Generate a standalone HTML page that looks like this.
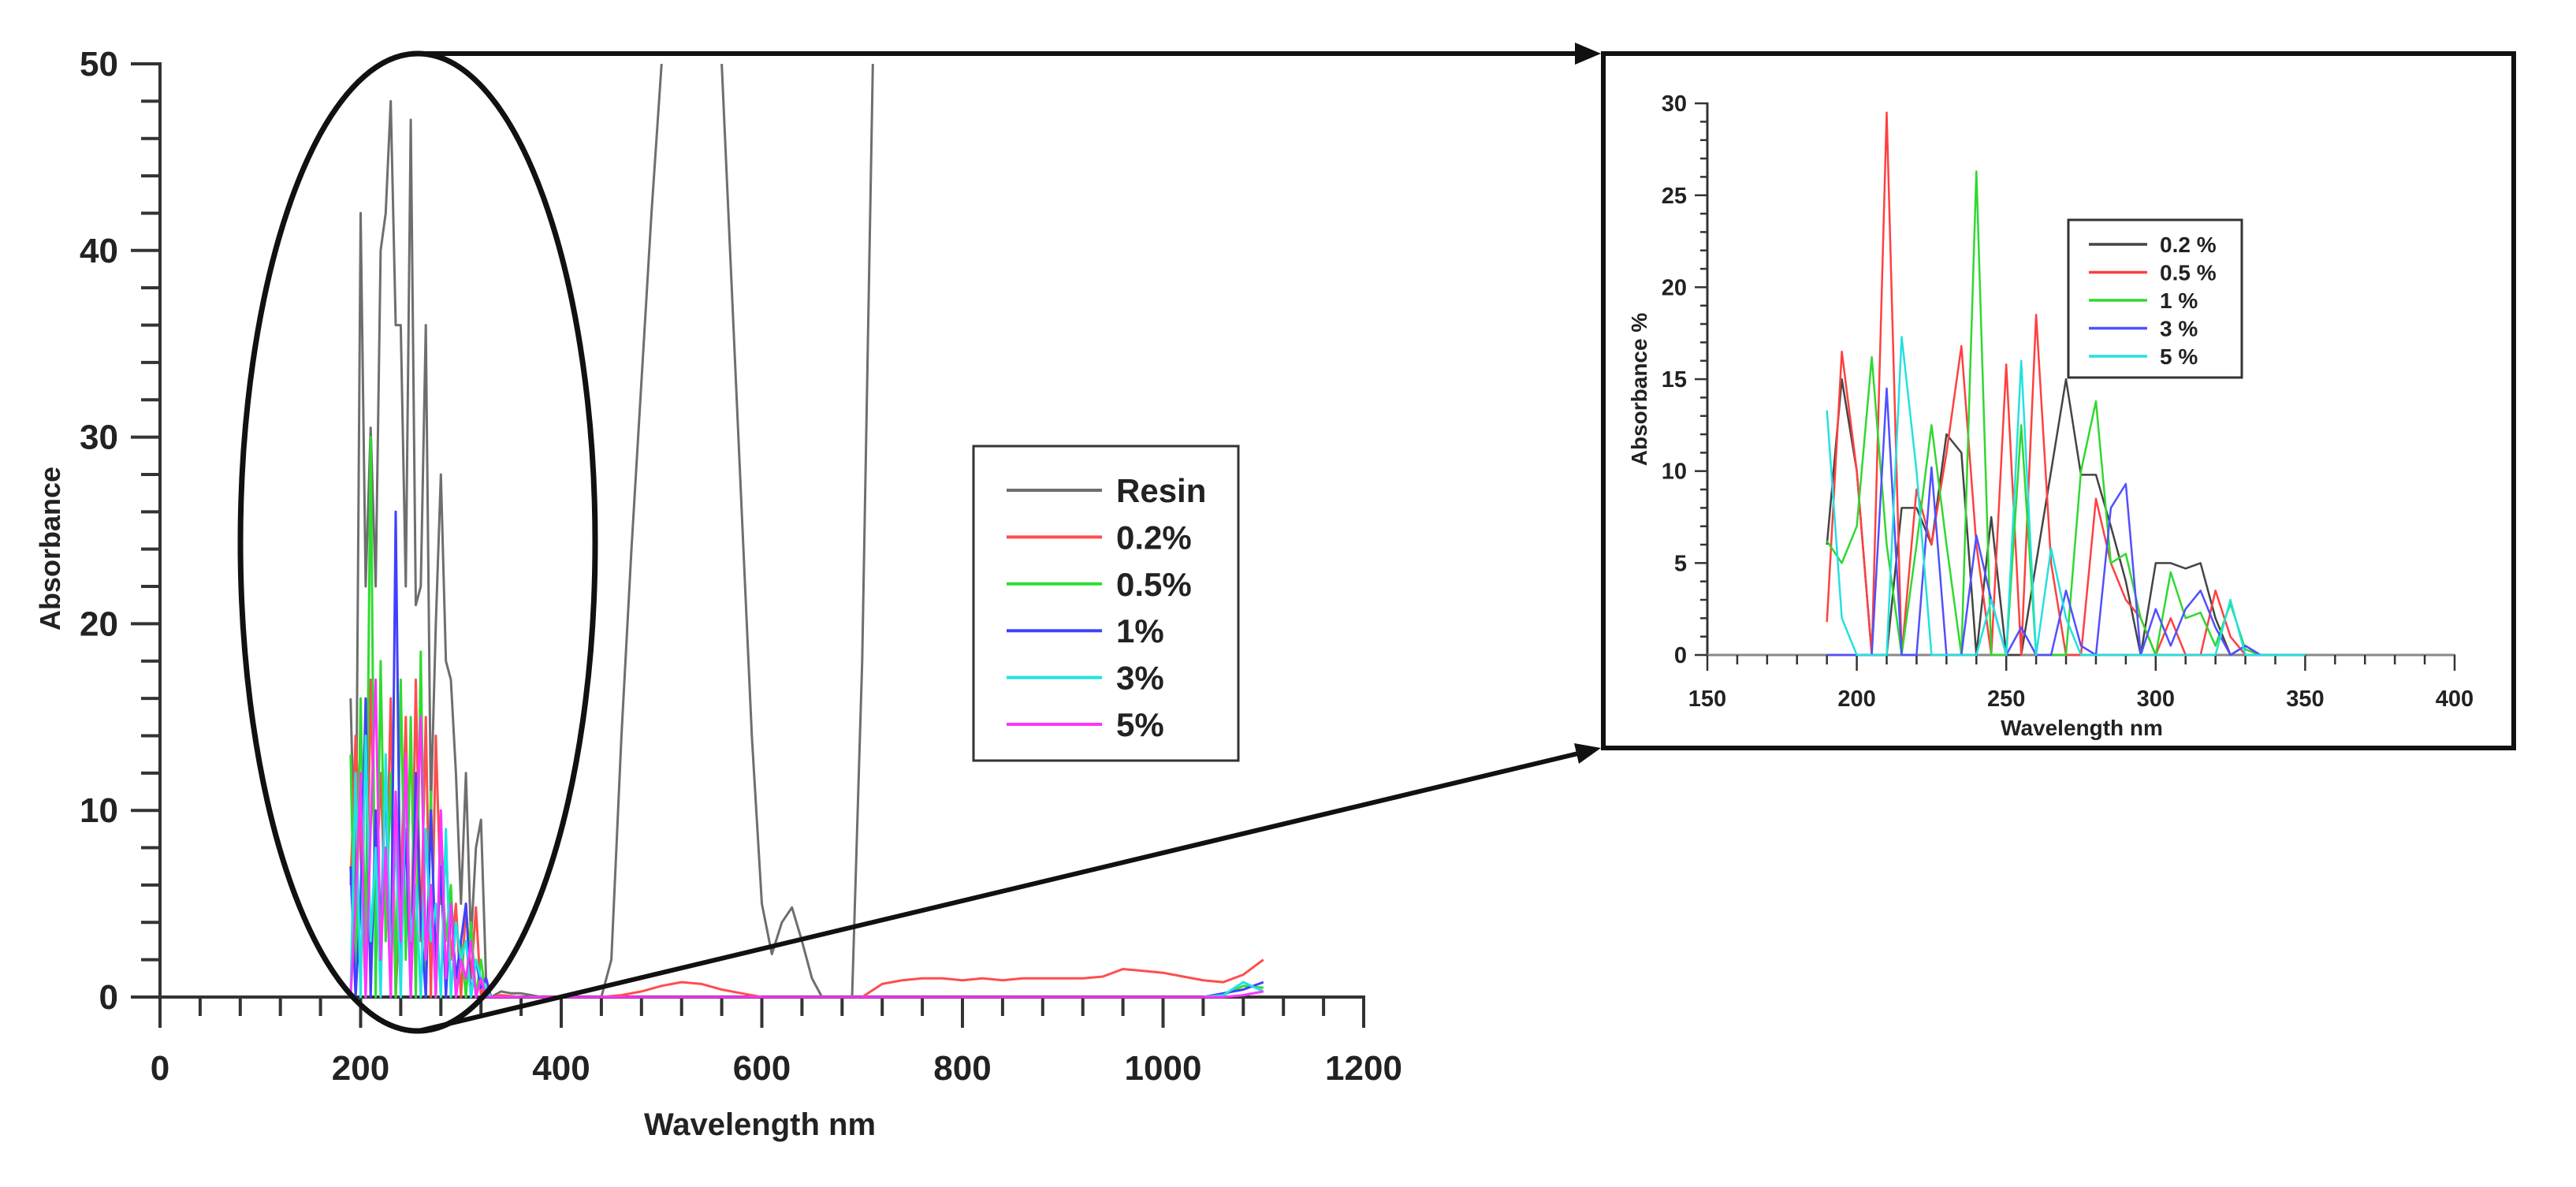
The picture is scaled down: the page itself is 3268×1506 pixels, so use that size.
<!DOCTYPE html>
<html><head><meta charset="utf-8">
<style>
html,body{margin:0;padding:0;background:#fff;}
svg{display:block;}
text{font-family:"Liberation Sans",Arial,sans-serif;fill:#222;}
</style></head>
<body>
<svg id="fig" width="3268" height="1506" viewBox="0 0 3268 1506" xmlns="http://www.w3.org/2000/svg">
<defs>
<clipPath id="mainClip"><rect x="203" y="81" width="1527" height="1200"/></clipPath>
<clipPath id="insetClip"><rect x="2166" y="131" width="948" height="710"/></clipPath>
</defs>
<g id="main"></g>
<g id="inset"></g>
<g id="annot"></g>
</svg>
<script>
// ---------- MAIN CHART DATA ----------
const spikeWl = [190,195,200,205,210,215,220,225,230,235,240,245,250,255,260,265,270,275,280,285,290,295,300,305,310,315,320,325,330];
const tailWl = [340,360,380,400,420,440,460,480,500,520,540,560,580,600,620,640,660,680,700,720,740,760,780,800,820,840,860,880,900,920,940,960,980,1000,1020,1040,1060,1080,1100];
const resinTailWl = [340,350,360,370,380,390,400,410,420,430,440,450,460,470,480,490,500,510,520,530,540,550,560,570,580,590,600,610,620,630,640,650,660,670,680,690,700,710,720];
const resinSpike = [16,5,42,22,30.5,22,40,42,48,36,36,22,47,21,22,36,10,20,28,18,17,12,5,12,3,8,9.5,1,0];
const resinTail = [0.3,0.2,0.2,0.1,0,0,0,0,0,0,0,2,14,24,33,42,50,60,65,65,62,56,50,38,26,14,5,2.3,4,4.8,3,1,0,0,0,0,18,48,80];
const redSpike = [6,14,8,0,17,5,12,4,16,0,6,15,1,17,3,15,0,14,5,8,2,5,0,5,1,4.8,0,1,0];
const greenSpike = [13,0,16,2,30,0,18,3,12,0,17,2,15,0,18.5,0,11,0,8,3,6,0,3,0,4,0,2,0,0];
const blueSpike = [7,0,5,16,0,10,3,12,0,26,2,9,0,12,4,0,10,2,7,0,5,1,3,5,0,2,0.5,1,0];
const cyanSpike = [0,12,0,14,3,8,0,13,1,9,0,12,3,6,0,9,3,5,0,9,0,4,2,3,0,2,1,0.5,0];
const magentaSpike = [0,5,12,0,9,17,2,8,0,11,3,13,0,8,15,2,6,0,10,1,5,0,2,1,3,0,1,0,0];
const redTail = [0.1,0,0,0,0,0,0.1,0.3,0.6,0.8,0.7,0.4,0.2,0,0,0,0,0,0,0.7,0.9,1,1,0.9,1,0.9,1,1,1,1,1.1,1.5,1.4,1.3,1.1,0.9,0.8,1.2,2];
const greenTail = [0,0,0,0,0,0,0,0,0,0,0,0,0,0,0,0,0,0,0,0,0,0,0,0,0,0,0,0,0,0,0,0,0,0,0,0,0.1,0.6,0.5];
const blueTail = [0,0,0,0,0,0,0,0,0,0,0,0,0,0,0,0,0,0,0,0,0,0,0,0,0,0,0,0,0,0,0,0,0,0,0,0,0.2,0.4,0.8];
const cyanTail = [0,0,0,0,0,0,0,0,0,0,0,0,0,0,0,0,0,0,0,0,0,0,0,0,0,0,0,0,0,0,0,0,0,0,0,0,0.1,0.8,0.3];
const magentaTail = [0,0,0,0,0,0,0,0,0,0,0,0,0,0,0,0,0,0,0,0,0,0,0,0,0,0,0,0,0,0,0,0,0,0,0,0,0,0.1,0.3];
const mainXTicks = [0,200,400,600,800,1000,1200];
const mainYTicks = [0,10,20,30,40,50];
const mainLegend = ["Resin","0.2%","0.5%","1%","3%","5%"];

// ---------- INSET DATA ----------
const insetWl = [190,195,200,205,210,215,220,225,230,235,240,245,250,255,260,265,270,275,280,285,290,295,300,305,310,315,320,325,330,335,340,345,350];
const in02 = [6,15,10,0,0,8,8,6,12,11,0,7.5,0,0,5,10,15,9.8,9.8,7,4,0,5,5,4.7,5,2,0,0.5,0,0,0,0];
const in05 = [1.8,16.5,10,0,29.5,0,9,6,11,16.8,6,0,15.8,0,18.5,5,0,0,8.5,5,3,2,0,2,0,0,3.5,1,0,0,0,0,0];
const in1 = [6.2,5,7,16.2,6,0,6,12.5,6,0,26.3,0,0,12.5,0,0,0,10,13.8,5,5.5,2,0,4.5,2,2.3,0.5,2.8,0.3,0,0,0,0];
const in3 = [0,0,0,0,14.5,0,0,10.2,0,0,6.5,3,0,1.5,0,0,3.5,0.5,0,8,9.3,0,2.5,0.5,2.5,3.5,1.5,0,0.5,0,0,0,0];
const in5 = [13.3,2,0,0,0,17.3,10,0,0,0,0,3,0,16,0,5.8,2,0,0,0,0,0,0,0,0,0,0,3,0,0,0,0,0];
const insetXTicks = [150,200,250,300,350,400];
const insetYTicks = [0,5,10,15,20,25,30];
const insetLegend = ["0.2 %","0.5 %","1 %","3 %","5 %"];

const NS = "http://www.w3.org/2000/svg";
function mk(parent, tag, attrs){const e=document.createElementNS(NS,tag);for(const k in attrs)e.setAttribute(k,attrs[k]);parent.appendChild(e);return e;}

// ---------- MAIN CHART ----------
const main = document.getElementById('main');
const mx = v => 203 + v*1.2725;
const my = v => 1265 - v*23.68;
const AX = "#333";

let yAxis = mk(main,'line',{x1:203,y1:79,x2:203,y2:1267,stroke:AX,'stroke-width':4});


for(let v=0; v<=50; v+=2){
  const major = v%10===0;
  let t = mk(main,'line',{x1:203-(major?37:24),y1:my(v),x2:203,y2:my(v),stroke:AX,'stroke-width':4});
  
  
}
mainYTicks.forEach(v=>{
  let t = mk(main,'text',{x:150,y:my(v)+15,'text-anchor':'end','font-size':44,'font-weight':'bold'});
  t.textContent = v;
  
  
});
let xAxis = mk(main,'line',{x1:201,y1:1265,x2:1732,y2:1265,stroke:AX,'stroke-width':4});


for(let v=0; v<=1200; v+=40){
  const major = v%200===0;
  let t = mk(main,'line',{x1:mx(v),y1:1265,x2:mx(v),y2:1265+(major?39:24),stroke:AX,'stroke-width':4});
  
  
}
mainXTicks.forEach(v=>{
  let t = mk(main,'text',{x:mx(v),y:1370,'text-anchor':'middle','font-size':44,'font-weight':'bold'});
  t.textContent = v;
  
  
});
let xt = mk(main,'text',{x:964,y:1440,'text-anchor':'middle','font-size':40,'font-weight':'bold'});
xt.textContent = "Wavelength  nm";


let yt = mk(main,'text',{x:0,y:0,'text-anchor':'middle','font-size':36,'font-weight':'bold',transform:'translate(76,696) rotate(-90)'});
yt.textContent = "Absorbance";



const mainSeries = [
  {name:'resin', color:'#6e6e6e', spike:resinSpike, tailX:resinTailWl, tail:resinTail},
  {name:'0.2pct', color:'#ff4d4d', spike:redSpike, tailX:tailWl, tail:redTail},
  {name:'0.5pct', color:'#2fdc2f', spike:greenSpike, tailX:tailWl, tail:greenTail},
  {name:'1pct', color:'#4040ff', spike:blueSpike, tailX:tailWl, tail:blueTail},
  {name:'3pct', color:'#1fe3e3', spike:cyanSpike, tailX:tailWl, tail:cyanTail},
  {name:'5pct', color:'#ff33ff', spike:magentaSpike, tailX:tailWl, tail:magentaTail}
];
const plotG = mk(main,'g',{'clip-path':'url(#mainClip)'});


mainSeries.forEach(s=>{
  const pts = [];
  spikeWl.forEach((w,i)=>pts.push(mx(w).toFixed(1)+','+my(s.spike[i]).toFixed(1)));
  s.tailX.forEach((w,i)=>pts.push(mx(w).toFixed(1)+','+my(s.tail[i]).toFixed(1)));
  let p = mk(plotG,'polyline',{points:pts.join(' '),fill:'none',stroke:s.color,'stroke-width':3,'stroke-linejoin':'round'});
  
  
});

const leg = mk(main,'g',{});


mk(leg,'rect',{x:1235,y:566,width:336,height:399,fill:'#fff',stroke:'#333','stroke-width':3});
mainLegend.forEach((lab,i)=>{
  const y = 622 + i*59.4;
  let l = mk(leg,'line',{x1:1277,y1:y,x2:1398,y2:y,stroke:mainSeries[i].color,'stroke-width':4});
  
  
  let t = mk(leg,'text',{x:1416,y:y+15,'font-size':42,'font-weight':'bold'});
  t.textContent = lab;
  
  
});

// ---------- ANNOTATION ----------
const an = document.getElementById('annot');
let el = mk(an,'ellipse',{cx:530,cy:688,rx:225,ry:620,fill:'none',stroke:'#111','stroke-width':7});


let l1 = mk(an,'line',{x1:531,y1:68,x2:2000,y2:68,stroke:'#111','stroke-width':6});


let a1 = mk(an,'polygon',{points:'2031,68 1998,54 1998,82',fill:'#111'});


let l2 = mk(an,'line',{x1:531,y1:1308,x2:2002,y2:956,stroke:'#111','stroke-width':6});


let a2 = mk(an,'polygon',{points:'2031,949 1997,943 2003,969',fill:'#111'});



// ---------- INSET ----------
const ins = document.getElementById('inset');
let box = mk(ins,'rect',{x:2034,y:68,width:1155,height:881,fill:'#fff',stroke:'#111','stroke-width':6});


const ix = v => 2166 + (v-150)*3.792;
const iy = v => 831 - v*23.33;
let iya = mk(ins,'line',{x1:2166,y1:130,x2:2166,y2:832,stroke:AX,'stroke-width':3});


let ixa = mk(ins,'line',{x1:2165,y1:831,x2:3115,y2:831,stroke:'#888','stroke-width':3});


for(let v=0; v<=30; v+=1){
  const major = v%5===0;
  let t = mk(ins,'line',{x1:2166-(major?16:9),y1:iy(v),x2:2166,y2:iy(v),stroke:AX,'stroke-width':2.5});
  
  
}
for(let v=150; v<=400; v+=10){
  const major = v%50===0;
  let t = mk(ins,'line',{x1:ix(v),y1:831,x2:ix(v),y2:831+(major?20:12),stroke:AX,'stroke-width':2.5});
  
  
}
insetYTicks.forEach(v=>{
  let t = mk(ins,'text',{x:2140,y:iy(v)+10,'text-anchor':'end','font-size':29,'font-weight':'bold'});
  t.textContent = v;
  
  
});
insetXTicks.forEach(v=>{
  let t = mk(ins,'text',{x:ix(v),y:896,'text-anchor':'middle','font-size':29,'font-weight':'bold'});
  t.textContent = v;
  
  
});
let ixt = mk(ins,'text',{x:2641,y:933,'text-anchor':'middle','font-size':28,'font-weight':'bold'});
ixt.textContent = "Wavelength nm";


let iyt = mk(ins,'text',{x:0,y:0,'text-anchor':'middle','font-size':28,'font-weight':'bold',transform:'translate(2089,494) rotate(-90)'});
iyt.textContent = "Absorbance %";



const insetSeries = [
  {name:'0.2pct', color:'#444', vals:in02},
  {name:'0.5pct', color:'#ff4040', vals:in05},
  {name:'1pct', color:'#30d830', vals:in1},
  {name:'3pct', color:'#5050ff', vals:in3},
  {name:'5pct', color:'#25e0e0', vals:in5}
];
const ipg = mk(ins,'g',{'clip-path':'url(#insetClip)'});


insetSeries.forEach(s=>{
  const pts = insetWl.map((w,i)=>ix(w).toFixed(1)+','+iy(s.vals[i]).toFixed(1)).join(' ');
  let p = mk(ipg,'polyline',{points:pts,fill:'none',stroke:s.color,'stroke-width':2.5,'stroke-linejoin':'round'});
  
  
});
const ileg = mk(ins,'g',{});


mk(ileg,'rect',{x:2624,y:279,width:220,height:200,fill:'#fff',stroke:'#333','stroke-width':3});
insetLegend.forEach((lab,i)=>{
  const y = 310 + i*35.5;
  let l = mk(ileg,'line',{x1:2650,y1:y,x2:2724,y2:y,stroke:insetSeries[i].color,'stroke-width':3.5});
  
  
  let t = mk(ileg,'text',{x:2740,y:y+10,'font-size':28,'font-weight':'bold'});
  t.textContent = lab;
  
  
});
</script>
</body></html>
